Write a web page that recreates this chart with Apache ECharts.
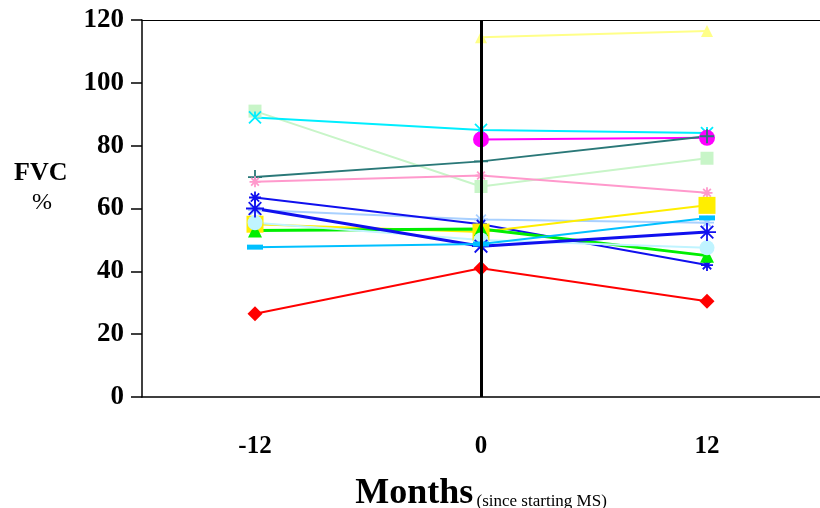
<!DOCTYPE html>
<html>
<head>
<meta charset="utf-8">
<script src="https://cdn.jsdelivr.net/npm/echarts@6/dist/echarts.min.js"></script>
<style>
  html, body { margin: 0; padding: 0; background: #fff; }
  #chart { width: 820px; height: 508px; }
</style>
</head>
<body>
<div id="chart"></div>
<script>
// months since starting MS
var months = [-12, 0, 12];
var yTicks = [0, 20, 40, 60, 80, 100, 120];

// FVC % per patient (null = not measured)
var palYellow = [null, 114.5, 116.5];
var paleGreen = [91, 67, 76];
var cyanSer = [89, 85, 84];
var magentaSer = [null, 82, 82.5];
var tealSer = [70, 75, 83];
var pinkSer = [68.5, 70.5, 65];
var blueThin = [63.5, 55, 42];
var lightBlue = [59.5, 56.5, 55.5];
var blueThick = [60, 48, 52.5];
var yellowSer = [55, 52.5, 61];
var greenSer = [53, 53.5, 45];
var lightCyan = [55.5, 50, 47.5];
var skyBlue = [47.7, 48.7, 57];
var redSer = [26.5, 41, 30.5];

// marker shapes
var asterisk = 'path://M0,-10L0,10M-10,0L10,0M-7,-7L7,7M-7,7L7,-7';
var crossX = 'path://M-10,-10L10,10M-10,10L10,-10M0,-10L0,0';
var plus = 'path://M0,-10L0,10M-10,0L10,0';
var dash = 'rect';

function pairs(arr) {
  return arr.map(function (v, i) { return [months[i], v]; });
}

function line(name, data, color, symbol, size, width, extra) {
  var s = {
    name: name,
    type: 'line',
    data: pairs(data),
    symbol: symbol,
    symbolSize: size,
    showSymbol: true,
    connectNulls: false,
    lineStyle: { color: color, width: width },
    itemStyle: { color: color, borderColor: color, borderWidth: symbol.indexOf('path') === 0 ? 1.8 : 0 },
    emphasis: { disabled: true },
    z: 3
  };
  return Object.assign(s, extra || {});
}

var chart = echarts.init(document.getElementById('chart'));
chart.setOption({
  animation: false,
  grid: { left: 142, right: 0, top: 20, bottom: 111, containLabel: false, outerBoundsMode: 'none' },
  xAxis: [{
    type: 'value',
    min: -18,
    max: 18,
    interval: 6,
    splitLine: { show: false },
    axisTick: { show: false },
    axisLine: { onZero: false, lineStyle: { color: '#000', width: 1.5 } },
    axisLabel: {
      customValues: months,
      margin: 37,
      color: '#000',
      fontFamily: 'Liberation Serif',
      fontWeight: 'bold',
      fontSize: 25
    },
    name: '{a|Months} {b|(since starting MS)}',
    nameLocation: 'middle',
    nameGap: 79,
    nameTextStyle: {
      rich: {
        a: { fontFamily: 'Liberation Serif', fontWeight: 'bold', fontSize: 36, color: '#000' },
        b: { fontFamily: 'Liberation Serif', fontSize: 17, color: '#000', verticalAlign: 'bottom', padding: [0, 0, 2, 0] }
      }
    }
  }, {
    // top border line
    type: 'value',
    position: 'top',
    min: -18,
    max: 18,
    axisLine: { show: true, onZero: false, lineStyle: { color: '#000', width: 1.2 } },
    axisTick: { show: false },
    axisLabel: { show: false },
    splitLine: { show: false }
  }],
  yAxis: {
    type: 'value',
    min: 0,
    max: 120,
    interval: 20,
    splitLine: { show: false },
    axisLine: { show: true, onZero: false, lineStyle: { color: '#000', width: 1.5 } },
    axisTick: { show: true, inside: false, length: 11, lineStyle: { color: '#000', width: 1.5 } },
    axisLabel: {
      margin: 18,
      color: '#000',
      fontFamily: 'Liberation Serif',
      fontWeight: 'bold',
      fontSize: 27,
      formatter: function (v) { return yTicks.indexOf(v) >= 0 ? String(v) : ''; }
    }
  },
  graphic: [
    { type: 'text', left: 14, top: 160, style: { text: 'FVC', font: 'bold 26px "Liberation Serif"', fill: '#000' } },
    { type: 'text', left: 32, top: 191, style: { text: '%', font: '24px "Liberation Serif"', fill: '#000' } }
  ],
  series: [
    line('p1', palYellow, '#ffff88', 'triangle', 12, 2),
    line('p2', paleGreen, '#c8f5c8', 'rect', 13, 2),
    line('p3', cyanSer, '#00eeff', crossX, 12, 2),
    line('p4', magentaSer, '#ff00ff', 'circle', 16, 2),
    line('p5', tealSer, '#2a7878', plus, 14, 2),
    line('p6', pinkSer, '#ff99cc', asterisk, 11, 2),
    line('p7', lightBlue, '#a8d0ff', asterisk, 14, 2),
    line('p8', blueThin, '#1010ee', asterisk, 12, 2),
    line('p9', yellowSer, '#ffee00', 'rect', 17, 2),
    line('p10', greenSer, '#00ee00', 'triangle', 14, 3),
    line('p11', lightCyan, '#c0f4ff', 'circle', 15, 2),
    line('p12', blueThick, '#1010ee', asterisk, 18, 3),
    line('p13', skyBlue, '#00c0ff', dash, [16, 5], 2),
    line('p14', redSer, '#ff0000', 'diamond', 15, 2, {
      markLine: {
        silent: true,
        symbol: 'none',
        label: { show: false },
        lineStyle: { color: '#000', width: 3, type: 'solid' },
        data: [{ xAxis: 0 }]
      }
    })
  ]
});
</script>
</body>
</html>
